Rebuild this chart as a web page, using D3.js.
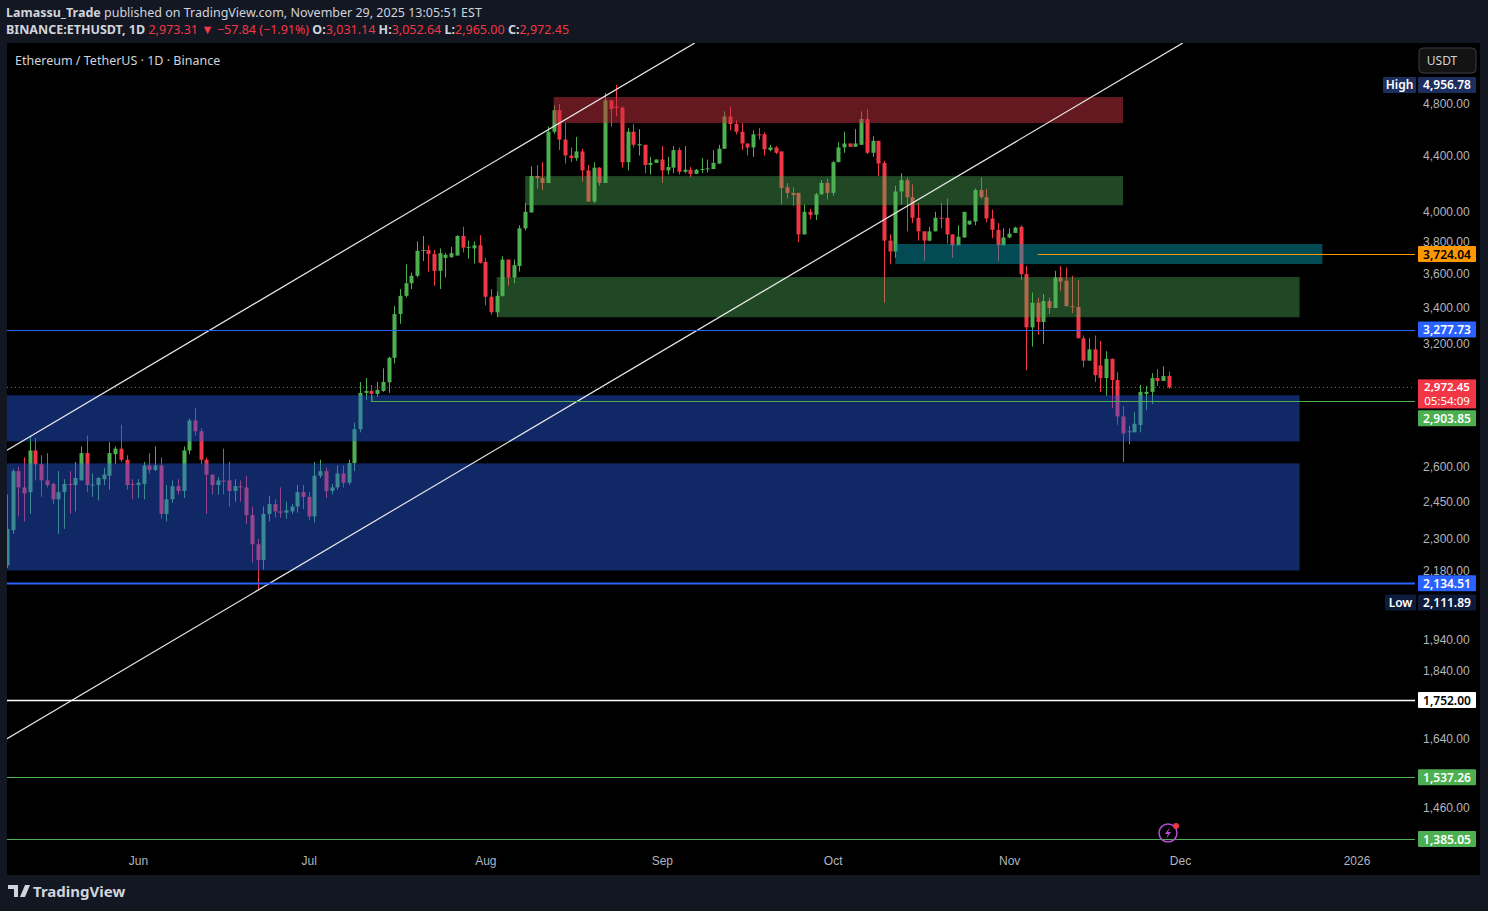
<!DOCTYPE html>
<html><head><meta charset="utf-8">
<script src="https://cdn.jsdelivr.net/npm/d3@7"></script>
<style>
html,body{margin:0;padding:0;background:#131722;overflow:hidden}
svg{display:block;font-family:"Noto Sans",Roboto,sans-serif}
</style></head><body>
<svg id="c" width="1488" height="911"></svg>
<script>
const startDate = "2025-05-09";
const opens = [2200,2335,2580,2510,2490,2672,2610,2540,2525,2460,2490,2525,2520,2540,2660,2520,2520,2545,2560,2655,2680,2630,2525,2520,2525,2605,2585,2605,2400,2460,2515,2495,2672,2811,2760,2630,2565,2520,2540,2540,2495,2515,2510,2395,2280,2220,2400,2440,2410,2405,2410,2430,2490,2470,2390,2560,2580,2495,2510,2570,2530,2615,2770,2945,2955,2940,2955,
2998,3125,3365,3470,3545,3590,3745,3750,3725,3620,3700,3705,3715,3840,3765,3760,3780,3675,3465,3375,3470,3690,3580,3650,3890,3995,4250,4235,4200,4580,4750,4520,4400,4380,4430,4290,4070,4310,4200,4830,4780,4770,4350,4580,4475,4480,4330,4345,4370,4290,4310,4440,4280,4295,4265,4295,4300,4300,4340,4450,4700,4640,4580,4490,4460,4560,4560,
4440,4460,4430,4170,4130,4130,3850,4000,3980,4120,4200,4130,4350,4460,4490,4465,4480,4680,4420,4510,4345,3810,3740,4140,4220,4100,3960,3870,3810,3870,3960,3960,3850,3780,3830,3915,3935,4150,4100,3955,3880,3780,3830,3860,3900,3600,3290,3430,3320,3440,3400,3580,3560,3410,3405,3230,3110,3170,3085,3020,3120,3010,2830,2755,2755,2790,2940,2950,3020,3005,3031.14];
const highs = [2480,2590,2600,2640,2740,2730,2650,2660,2530,2580,2545,2580,2620,2690,2740,2570,2555,2595,2710,2690,2790,2650,2545,2545,2620,2660,2690,2640,2520,2540,2545,2690,2820,2870,2775,2640,2565,2555,2680,2620,2545,2540,2560,2430,2300,2430,2475,2460,2510,2450,2440,2520,2520,2490,2620,2630,2595,2525,2605,2605,2630,2800,3000,3020,2985,3000,3070,
3130,3410,3510,3660,3610,3805,3840,3780,3750,3760,3730,3770,3845,3900,3810,3805,3845,3700,3510,3495,3710,3690,3690,3910,4060,4320,4330,4350,4620,4790,4800,4650,4460,4540,4450,4330,4350,4315,4890,4830,4956.78,4780,4610,4640,4600,4480,4390,4370,4470,4390,4470,4460,4470,4315,4300,4380,4370,4440,4480,4740,4780,4670,4650,4490,4590,4610,4575,
4480,4470,4430,4200,4170,4130,4050,4020,4130,4220,4230,4360,4500,4580,4490,4600,4740,4760,4545,4510,4360,3850,4180,4270,4240,4190,4060,3870,3900,4000,4060,4090,3850,3910,4000,3940,4160,4240,4160,4015,3925,3890,3890,3900,3910,3650,3490,3460,3480,3460,3620,3650,3640,3590,3565,3245,3230,3245,3215,3160,3120,3050,2880,2785,2850,2985,2980,3045,3065,3080,3052.64];
const lows = [2190,2320,2390,2370,2400,2540,2470,2510,2440,2320,2340,2400,2410,2540,2490,2470,2455,2520,2500,2610,2620,2500,2460,2465,2460,2570,2580,2380,2370,2445,2480,2465,2655,2740,2610,2400,2480,2480,2480,2430,2450,2450,2360,2210,2111.89,2185,2370,2385,2385,2380,2400,2405,2420,2375,2365,2550,2465,2480,2500,2510,2520,2580,2755,2910,2900,2925,2950,
2945,3095,3310,3460,3510,3580,3680,3615,3530,3510,3580,3700,3715,3735,3695,3665,3665,3415,3360,3350,3465,3530,3545,3615,3875,4000,4160,4150,4200,4565,4440,4340,4350,4360,4210,4070,4060,4180,4200,4620,4700,4310,4290,4460,4400,4270,4260,4345,4200,4260,4270,4260,4270,4240,4265,4270,4275,4300,4340,4450,4590,4560,4440,4400,4390,4520,4400,
4430,4410,4050,4090,4040,3800,3850,3950,3945,4120,4085,4110,4350,4420,4465,4465,4480,4410,4390,4250,3430,3660,3700,4050,3870,3925,3810,3680,3805,3870,3890,3790,3700,3780,3830,3915,3910,4090,3930,3825,3680,3780,3825,3860,3565,3060,3185,3250,3200,3365,3400,3500,3410,3370,3230,3075,3110,3000,2950,2930,2870,2790,2620,2700,2755,2755,2860,2890,2980,3005,2965];
const closes = [2340,2580,2510,2485,2672,2610,2540,2520,2460,2490,2525,2520,2550,2660,2520,2522,2550,2565,2660,2680,2630,2520,2520,2530,2605,2585,2605,2400,2460,2515,2495,2672,2811,2760,2630,2565,2520,2540,2535,2495,2515,2510,2395,2280,2220,2400,2440,2410,2405,2415,2430,2490,2470,2390,2560,2580,2495,2510,2570,2530,2615,2770,2945,2955,2940,2960,3000,
3125,3365,3470,3545,3590,3745,3750,3725,3620,3730,3720,3730,3840,3765,3770,3780,3670,3465,3375,3470,3690,3580,3655,3890,4000,4250,4235,4200,4580,4750,4520,4400,4380,4430,4290,4070,4310,4200,4830,4760,4770,4350,4580,4480,4485,4330,4345,4370,4290,4315,4440,4280,4295,4265,4295,4300,4305,4345,4450,4700,4640,4580,4490,4460,4560,4555,4445,
4460,4420,4165,4130,4115,3850,4000,3980,4120,4200,4130,4350,4460,4490,4465,4490,4680,4420,4510,4340,3810,3740,4140,4220,4100,3960,3870,3810,3870,3960,3955,3850,3780,3835,4000,3940,4150,4100,3955,3880,3780,3830,3855,3895,3600,3290,3430,3320,3440,3400,3580,3555,3410,3405,3230,3110,3170,3035,3020,3120,3010,2830,2750,2760,2795,2950,2950,3020,3005,3030,2972.45];

const zones = [
 {from:"2025-05-09", to:"2025-12-22", top:2933, bottom:2713, color:"rgba(38,89,227,0.45)"},
 {from:"2025-05-09", to:"2025-12-22", top:2614, bottom:2181, color:"rgba(38,89,227,0.45)"},
 {from:"2025-08-13", to:"2025-11-21", top:4857, bottom:4648, color:"rgba(200,48,62,0.5)"},
 {from:"2025-08-08", to:"2025-11-21", top:4249, bottom:4045, color:"rgba(80,180,90,0.4)"},
 {from:"2025-08-03", to:"2025-12-22", top:3582, bottom:3347, color:"rgba(80,180,90,0.4)"},
 {from:"2025-10-12", to:"2025-12-26", top:3788, bottom:3662, color:"rgba(4,150,170,0.5)"}
];
const trendLines = [
 {d1:"2025-05-09", p1:2673, d2:"2025-09-06T19:00", p2:5322},
 {d1:"2025-05-09", p1:1641, d2:"2025-12-01T12:00", p2:5322}
];
const levels = [
 {price:3724.04, from:"2025-11-06", color:"#ff9800", text:"#000", w:1, dy:0},
 {price:3277.73, from:"2025-05-09", color:"#2962ff", text:"#fff", w:1, dy:0},
 {price:2903.85, from:"2025-07-12", color:"#4caf50", text:"#fff", w:1, dy:17},
 {price:2134.51, from:"2025-05-09", color:"#2962ff", text:"#fff", w:2, dy:0},
 {price:1752.00, from:"2025-05-09", color:"#ffffff", text:"#000", w:1.5, dy:0},
 {price:1537.26, from:"2025-05-09", color:"#4caf50", text:"#fff", w:1, dy:0},
 {price:1385.05, from:"2025-05-09", color:"#4caf50", text:"#fff", w:1, dy:0}
];
const priceTicks = [4800,4400,4000,3800,3600,3400,3200,2600,2450,2300,2180,1940,1840,1640,1460];
const timeTicks = ["2025-06-01","2025-07-01","2025-08-01","2025-09-01","2025-10-01","2025-11-01","2025-12-01","2026-01-01"];
const timeLabels = ["Jun","Jul","Aug","Sep","Oct","Nov","Dec","2026"];

const P = s => new Date(s.length<=10 ? s+"T00:00:00Z" : s+"Z");
const svg = d3.select("#c");
const L=7, R=1415, T=43, B=845;
const x = d3.scaleUtc().domain([P("2025-05-09"), P("2025-12-01")]).range([7,1180]);
const y = d3.scaleLog().domain([4800,1385.05]).range([104, 839]);

svg.append("rect").attr("x",L).attr("y",T).attr("width",1480-L).attr("height",875-T).attr("fill","#000");
svg.append("defs").append("clipPath").attr("id","pl").append("rect").attr("x",L).attr("y",T).attr("width",R-L).attr("height",B-T);
const g = svg.append("g").attr("clip-path","url(#pl)");

const data = closes.map((c,i)=>({d:d3.utcDay.offset(P(startDate),i),o:opens[i],h:highs[i],l:lows[i],c}));
const up="#4caf50", dn="#f23645";
const cg = g.append("g");
cg.selectAll("line").data(data).join("line")
 .attr("x1",d=>Math.round(x(d.d))+0.5).attr("x2",d=>Math.round(x(d.d))+0.5)
 .attr("y1",d=>y(d.h)).attr("y2",d=>y(d.l)).attr("stroke",d=>d.c>=d.o?up:dn);
cg.selectAll("rect").data(data).join("rect")
 .attr("x",d=>Math.round(x(d.d))-1.5).attr("width",4)
 .attr("y",d=>y(Math.max(d.o,d.c))).attr("height",d=>Math.max(1,Math.abs(y(d.o)-y(d.c))))
 .attr("fill",d=>d.c>=d.o?up:dn);

g.selectAll(".z").data(zones).join("rect").attr("x",d=>x(P(d.from))).attr("width",d=>x(P(d.to))-x(P(d.from)))
 .attr("y",d=>y(d.top)).attr("height",d=>y(d.bottom)-y(d.top)).attr("fill",d=>d.color);

g.selectAll(".t").data(trendLines).join("line").attr("stroke","#e8e8e8").attr("stroke-width",1.2)
 .attr("x1",d=>x(P(d.d1))).attr("y1",d=>y(d.p1)).attr("x2",d=>x(P(d.d2))).attr("y2",d=>y(d.p2));

levels.forEach(l=>{
  g.append("line").attr("x1",x(P(l.from))).attr("x2",R).attr("y1",Math.round(y(l.price))+0.5).attr("y2",Math.round(y(l.price))+0.5)
   .attr("stroke",l.color).attr("stroke-width",l.w);
});
g.append("line").attr("x1",x(P("2025-07-12"))+0.5).attr("x2",x(P("2025-07-12"))+0.5).attr("y1",y(2933)).attr("y2",y(2903.85)).attr("stroke","#4caf50");
g.append("line").attr("x1",L).attr("x2",R).attr("y1",y(2972.45)).attr("y2",y(2972.45)).attr("stroke","#f23645").attr("stroke-dasharray","1,3");

const ya = svg.append("g").attr("transform",`translate(${R},0)`).call(d3.axisRight(y).tickValues(priceTicks).tickFormat(d3.format(",.2f")).tickSize(0).tickPadding(8));
ya.select(".domain").remove();
ya.selectAll("text").attr("fill","#b2b5be").attr("font-size",12);

const xa = svg.append("g").attr("transform",`translate(0,${B+8})`).call(d3.axisBottom(x).tickValues(timeTicks.map(P)).tickFormat((d,i)=>timeLabels[i]).tickSize(0));
xa.select(".domain").remove();
xa.selectAll("text").attr("fill","#b2b5be").attr("font-size",12);

function tag(yc, txt, bg, fg, x0, w){
  svg.append("rect").attr("x",x0).attr("y",yc-8).attr("width",w).attr("height",16).attr("fill",bg).attr("rx",1);
  svg.append("text").attr("x",x0+w/2).attr("y",yc+4.5).attr("text-anchor","middle").attr("fill",fg).attr("font-size",12).attr("font-weight",600).text(txt);
}
const fmt = d3.format(",.2f");
levels.forEach(l=>tag(y(l.price)+l.dy, fmt(l.price), l.color, l.text, 1418, 58));
svg.append("rect").attr("x",1418).attr("y",y(2972.45)-8).attr("width",58).attr("height",29).attr("fill","#f23645");
svg.append("text").attr("x",1447).attr("y",y(2972.45)+4).attr("text-anchor","middle").attr("fill","#fff").attr("font-size",11.5).attr("font-weight",600).text(fmt(2972.45));
svg.append("text").attr("x",1447).attr("y",y(2972.45)+17.5).attr("text-anchor","middle").attr("fill","#fff").attr("font-size",11.5).text("05:54:09");
tag(y(4956.78), fmt(4956.78), "#1c2e5e", "#fff", 1418, 58);
tag(y(4956.78), "High", "#1c2e5e", "#fff", 1383, 33);
tag(y(2111.89)+13, fmt(2111.89), "#0e1a3a", "#fff", 1418, 58);
tag(y(2111.89)+13, "Low", "#0e1a3a", "#fff", 1385, 31);

svg.append("rect").attr("x",1419).attr("y",48).attr("width",57).attr("height",25).attr("rx",4).attr("fill","#131313").attr("stroke","#3a3d45");
svg.append("text").attr("x",1442).attr("y",65).attr("text-anchor","middle").attr("fill","#d1d4dc").attr("font-size",12).text("USDT");

const h1 = svg.append("text").attr("x",6).attr("y",17).attr("font-size",12.5).attr("fill","#d1d4dc");
h1.append("tspan").attr("font-weight",700).text("Lamassu_Trade");
h1.append("tspan").text(" published on TradingView.com, November 29, 2025 13:05:51 EST");
const h2 = svg.append("text").attr("x",6).attr("y",34).attr("font-size",12.5).attr("fill","#d1d4dc");
h2.append("tspan").attr("font-weight",700).text("BINANCE:ETHUSDT, 1D ");
h2.append("tspan").attr("fill","#f23645").text("2,973.31 ▼ −57.84 (−1.91%) ");
[["O:","3,031.14 "],["H:","3,052.64 "],["L:","2,965.00 "],["C:","2,972.45"]].forEach(([a,b])=>{
  h2.append("tspan").attr("font-weight",700).text(a); h2.append("tspan").attr("fill","#f23645").text(b);
});
svg.append("text").attr("x",15).attr("y",65).attr("font-size",12.5).attr("fill","#d1d4dc").text("Ethereum / TetherUS · 1D · Binance");

svg.append("circle").attr("cx",1168).attr("cy",833).attr("r",9).attr("fill","none").attr("stroke","#b04fd8").attr("stroke-width",1.5);
svg.append("path").attr("d","M1170,827 L1165,834 L1168,834 L1166,839 L1171,832 L1168,832 Z").attr("fill","#b04fd8");
svg.append("circle").attr("cx",1176).attr("cy",826).attr("r",3).attr("fill","#f23645");

svg.append("path").attr("d","M8,885 h10 v12 h-4 v-8 h-6 Z M20,897 l5,-12 h5 l-5,12 Z").attr("fill","#d1d4dc");
svg.append("text").attr("x",33).attr("y",897).attr("font-size",15).attr("font-weight",700).attr("fill","#d1d4dc").text("TradingView");
</script></body></html>
